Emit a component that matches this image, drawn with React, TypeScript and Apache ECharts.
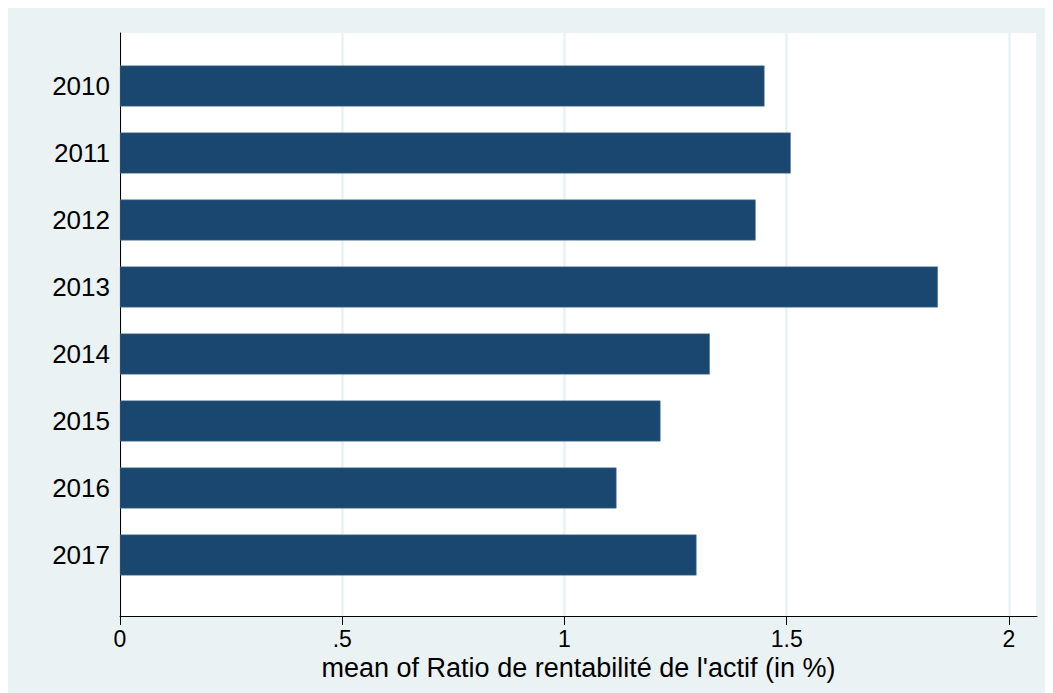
import React, { useEffect, useRef } from "react";
import * as echarts from "echarts";

const years = ["2010", "2011", "2012", "2013", "2014", "2015", "2016", "2017"];
const meanROA = [1.45, 1.509, 1.43, 1.84, 1.327, 1.216, 1.117, 1.297];
const xTickLabels: Record<string, string> = { "0": "0", "0.5": ".5", "1": "1", "1.5": "1.5", "2": "2" };
const xTitle = "mean of Ratio de rentabilité de l'actif (in %)";

const FONT = "'Liberation Sans', Arial, sans-serif";

export default function App() {
  const ref = useRef<HTMLDivElement>(null);
  useEffect(() => {
    if (!ref.current) return;
    const chart = echarts.init(ref.current, undefined, { renderer: "svg" });
    const xMax = 2.063;
    chart.setOption({
      animation: false,
      backgroundColor: "#EAF2F3",
      textStyle: { fontFamily: FONT },
      grid: [
        { left: 112, right: 16, top: 25, bottom: 77, show: true, backgroundColor: "#ffffff", borderWidth: 0 },
        { left: 112, right: 16, top: 44.5, bottom: 104.5 },
      ],
      xAxis: [
        {
          gridIndex: 0,
          type: "value",
          min: 0,
          max: xMax,
          interval: 0.5,
          axisLine: { show: true, lineStyle: { color: "#000", width: 1 } },
          axisTick: { show: true, length: 9, lineStyle: { color: "#000" } },
          axisLabel: {
            color: "#000",
            fontSize: 23,
            fontFamily: FONT,
            margin: 11,
            showMaxLabel: false,
            formatter: (v: number) => xTickLabels[String(v)] ?? "",
          },
          splitLine: { show: true, lineStyle: { color: "#EAF2F3", width: 2.5 } },
          name: xTitle,
          nameLocation: "middle",
          nameGap: 30,
          nameTextStyle: { color: "#000", fontSize: 27, fontFamily: FONT },
        },
        {
          gridIndex: 1,
          type: "value",
          min: 0,
          max: xMax,
          show: false,
        },
      ],
      yAxis: [
        {
          gridIndex: 0,
          type: "category",
          data: years,
          inverse: true,
          axisLine: { show: true, lineStyle: { color: "#000", width: 1 } },
          axisTick: { show: false },
          axisLabel: { show: false },
          splitLine: { show: false },
        },
        {
          gridIndex: 1,
          type: "category",
          data: years,
          inverse: true,
          axisLine: { show: false },
          axisTick: { show: false },
          axisLabel: { color: "#000", fontSize: 26, fontFamily: FONT, margin: 10 },
          splitLine: { show: false },
        },
      ],
      series: [
        {
          type: "bar",
          xAxisIndex: 1,
          yAxisIndex: 1,
          data: meanROA,
          barCategoryGap: "39%",
          itemStyle: { color: "#1a476f", borderColor: "#5a7a96", borderWidth: 0.5 },
        },
      ],
    });
    return () => chart.dispose();
  }, []);
  return <div ref={ref} style={{ width: 1045, height: 685 }} />;
}
